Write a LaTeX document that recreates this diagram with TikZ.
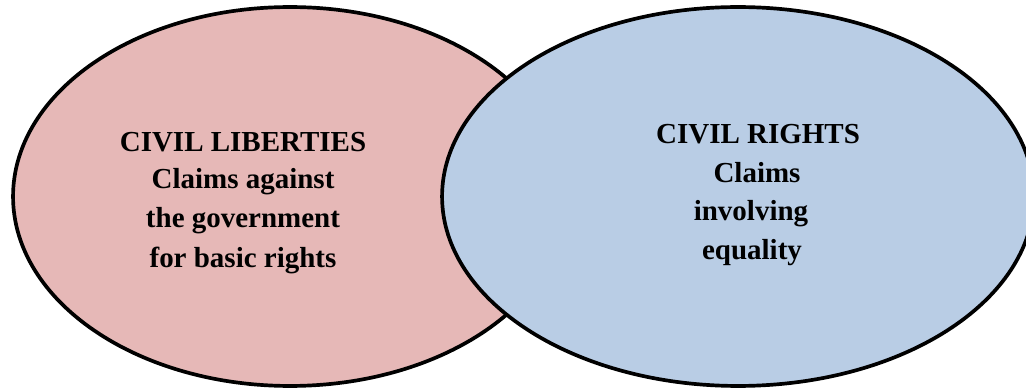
\documentclass[tikz,border=0pt]{standalone}
\usepackage{fontspec}
\setmainfont{Liberation Serif}
\usetikzlibrary{shapes.geometric}
\definecolor{libfill}{HTML}{E6B8B7}
\definecolor{rightsfill}{HTML}{B9CDE5}
\begin{document}
\begin{tikzpicture}[x=0.02cm,y=-0.02cm,
  setbox/.style={ellipse,draw=black,line width=2.1pt,inner sep=0pt},
  label/.style={anchor=base,inner sep=0pt,font=\fontsize{16.5}{22}\selectfont\bfseries}]
  \useasboundingbox (0,0) rectangle (1026,391);
  \begin{scope}
    \clip (0,0) rectangle (1026,391);
    % civil liberties set, drawn first so the civil rights set lies over it
    \node[setbox,fill=libfill,minimum width=11.08cm,minimum height=7.58cm] (lib) at (290,196.5) {};
    \node[setbox,fill=rightsfill,minimum width=11.84cm,minimum height=7.58cm] (rights) at (738,196.5) {};
  \end{scope}
  % civil liberties text
  \node[label] (l1) at (243,152) {CIVIL LIBERTIES};
  \node[label] (l2) at (243,189) {Claims against};
  \node[label] (l3) at (243,228) {the government};
  \node[label] (l4) at (243,267) {for basic rights};
  % civil rights text
  \node[label] (r1) at (758,144) {CIVIL RIGHTS};
  \node[label] (r2) at (757,183) {Claims};
  \node[label] (r3) at (751,221) {involving};
  \node[label] (r4) at (752,259) {equality};
\end{tikzpicture}
\end{document}
